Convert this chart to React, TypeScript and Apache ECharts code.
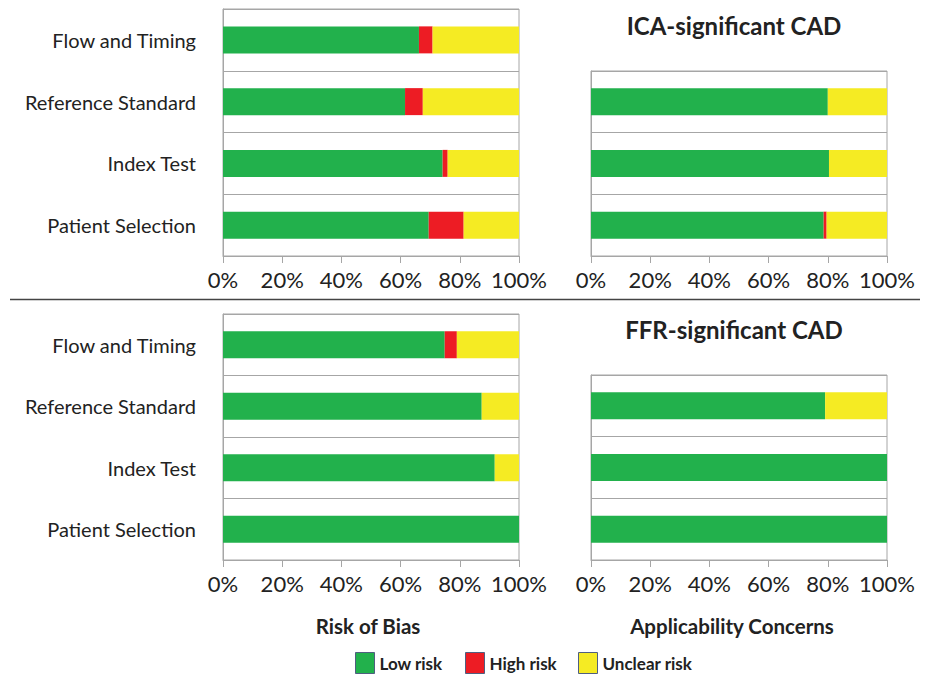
import React, { useEffect, useRef } from "react";
import * as echarts from "echarts";

const catsAll = ["Patient Selection", "Index Test", "Reference Standard", "Flow and Timing"];
const catsApp = ["Patient Selection", "Index Test", "Reference Standard"];
const tickValues = [0, 20, 40, 60, 80, 100];

// ICA-significant CAD — Risk of Bias
const icaBiasLow = [69.5, 74.2, 61.5, 66.2];
const icaBiasHigh = [11.8, 1.7, 6.0, 4.6];
const icaBiasUnclear = [18.7, 24.1, 32.5, 29.2];
// ICA-significant CAD — Applicability
const icaAppLow = [78.6, 80.4, 80.0];
const icaAppHigh = [1.0, 0, 0];
const icaAppUnclear = [20.4, 19.6, 20.0];
// FFR-significant CAD — Risk of Bias
const ffrBiasLow = [100, 91.8, 87.4, 74.9];
const ffrBiasHigh = [0, 0, 0, 4.1];
const ffrBiasUnclear = [0, 8.2, 12.6, 21.0];
// FFR-significant CAD — Applicability
const ffrAppLow = [100, 100, 79.1];
const ffrAppHigh = [0, 0, 0];
const ffrAppUnclear = [0, 0, 20.9];

const GREEN = "#22B14C";
const RED = "#ED1C24";
const YELLOW = "#F5EB23";
const GRAY = "#A6A6A6";
const TEXT = "#222222";
const FONT = "Lato, 'Noto Sans', sans-serif";

export default function App() {
  const ref = useRef<HTMLDivElement>(null);
  useEffect(() => {
    if (!ref.current) return;
    const chart = echarts.init(ref.current, undefined, { renderer: "svg" });
    const grids = [
      { left: 223, top: 9, width: 296, height: 247 },
      { left: 591, top: 71, width: 296, height: 185 },
      { left: 223, top: 314, width: 296, height: 246 },
      { left: 591, top: 375, width: 296, height: 185 },
    ].map((g) => ({ ...g, show: true, borderColor: GRAY, borderWidth: 1, containLabel: false }));

    const xAxes = grids.map((_, i) => ({
      type: "value",
      gridIndex: i,
      min: 0,
      max: 100,
      interval: 20,
      axisLine: { show: true, lineStyle: { color: GRAY } },
      axisTick: { show: true, length: 7, lineStyle: { color: GRAY } },
      splitLine: { show: false },
      axisLabel: {
        formatter: "{value}%",
        fontSize: 22,
        color: TEXT,
        fontFamily: FONT,
        margin: 12,
        customValues: tickValues,
      },
    }));

    const yAxes = grids.map((_, i) => ({
      type: "category",
      gridIndex: i,
      data: i % 2 === 0 ? catsAll : catsApp,
      axisLine: { show: true, lineStyle: { color: GRAY } },
      axisTick: { show: false },
      splitLine: { show: true, lineStyle: { color: GRAY, width: 1 } },
      axisLabel: {
        show: i % 2 === 0,
        fontSize: 20,
        color: TEXT,
        fontFamily: FONT,
        margin: 27,
      },
    }));

    const sets = [
      [icaBiasLow, icaBiasHigh, icaBiasUnclear],
      [icaAppLow, icaAppHigh, icaAppUnclear],
      [ffrBiasLow, ffrBiasHigh, ffrBiasUnclear],
      [ffrAppLow, ffrAppHigh, ffrAppUnclear],
    ];
    const names = ["Low risk", "High risk", "Unclear risk"];
    const colors = [GREEN, RED, YELLOW];
    const series: any[] = [];
    sets.forEach((set, gi) => {
      set.forEach((vals, si) => {
        series.push({
          type: "bar",
          name: names[si],
          xAxisIndex: gi,
          yAxisIndex: gi,
          stack: "s" + gi,
          data: vals,
          barWidth: 27,
          itemStyle: { color: colors[si] },
          emphasis: { disabled: true },
        });
      });
    });

    const legendBase = {
      orient: "horizontal",
      top: 652,
      icon: "rect",
      itemWidth: 19,
      itemHeight: 21,
      itemGap: 7,
      textStyle: { fontSize: 17, fontWeight: "bold", color: TEXT, fontFamily: FONT, padding: [0, 0, 0, 0] },
      itemStyle: { borderColor: "#4F5F80", borderWidth: 1 },
      selectedMode: false,
      padding: 0,
    };

    const titleText = (size: number) => ({ fontSize: size, fontWeight: "bold", color: TEXT, fontFamily: FONT });

    chart.setOption({
      animation: false,
      backgroundColor: "#ffffff",
      textStyle: { fontFamily: FONT },
      grid: grids,
      xAxis: xAxes,
      yAxis: yAxes,
      series,
      legend: [
        { ...legendBase, left: 355, data: ["Low risk"] },
        { ...legendBase, left: 465, data: ["High risk"] },
        { ...legendBase, left: 578, data: ["Unclear risk"] },
      ],
      title: [
        { text: "ICA-significant CAD", left: 734, top: 13, padding: 0, textAlign: "center", textStyle: titleText(24) },
        { text: "FFR-significant CAD", left: 734, top: 317, padding: 0, textAlign: "center", textStyle: titleText(24) },
        { text: "Risk of Bias", left: 368, top: 615, padding: 0, textAlign: "center", textStyle: titleText(20.5) },
        { text: "Applicability Concerns", left: 732, top: 615, padding: 0, textAlign: "center", textStyle: titleText(20.5) },
      ],
      graphic: [
        {
          type: "line",
          shape: { x1: 10, y1: 299.5, x2: 920, y2: 299.5 },
          style: { stroke: "#444444", lineWidth: 1.5 },
        },
      ],
    });
    return () => chart.dispose();
  }, []);
  return (
    <div
      ref={ref}
      style={{ position: "absolute", left: 0, top: 0, width: 925, height: 675, background: "#fff" }}
    />
  );
}
